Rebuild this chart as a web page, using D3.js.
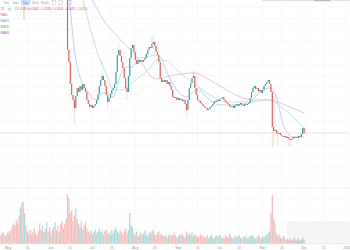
<!DOCTYPE html>
<html>
<head>
<meta charset="utf-8">
<title>Daily chart</title>
<style>
  body { margin: 0; background: #fff; }
  svg { display: block; font-family: "Liberation Sans", Arial, sans-serif; }
</style>
</head>
<body>
<svg width="350" height="250"></svg>
<script src="https://d3js.org/d3.v7.min.js"></script>
<script>

// daily candles start 2022-06-12, volume starts 2022-04-25 (day 0)
var volStart = "2022-04-25";
var candleStart = "2022-06-12";
var axisEnd = "2023-01-01";
var firstOpen = 0.4420;

var closes = [
  0.4291, 0.3725, 0.3621, 0.3429, 0.3334, 0.3290, 0.3220, 0.3325, 0.3394, 0.3360,
  0.3412, 0.3377, 0.3429, 0.3394, 0.3360, 0.3290, 0.3255, 0.3229, 0.3247, 0.3220,
  0.3238, 0.3255, 0.3290, 0.3342, 0.3412, 0.3464, 0.3499, 0.3464, 0.3412, 0.3334,
  0.3273, 0.3307, 0.3342, 0.3377, 0.3394, 0.3429, 0.3534, 0.3682, 0.3725, 0.3673,
  0.3621, 0.3568, 0.3481, 0.3394, 0.3360, 0.3499, 0.3655, 0.3742, 0.3769, 0.3708,
  0.3638, 0.3603, 0.3638, 0.3621, 0.3638, 0.3621, 0.3638, 0.3655, 0.3690, 0.3725,
  0.3751, 0.3742, 0.3777, 0.3795, 0.3760, 0.3708, 0.3682, 0.3621, 0.3481, 0.3447,
  0.3464, 0.3447, 0.3464, 0.3429, 0.3447, 0.3412, 0.3377, 0.3316, 0.3307, 0.3316,
  0.3290, 0.3307, 0.3290, 0.3299, 0.3281, 0.3290, 0.3255, 0.3203, 0.3290, 0.3394,
  0.3438, 0.3481, 0.3499, 0.3394, 0.3334, 0.3290, 0.3281, 0.3264, 0.3255, 0.3238,
  0.3229, 0.3220, 0.3203, 0.3212, 0.3229, 0.3238, 0.3255, 0.3281, 0.3273, 0.3290,
  0.3281, 0.3299, 0.3307, 0.3316, 0.3290, 0.3273, 0.3264, 0.3255, 0.3238, 0.3229,
  0.3238, 0.3220, 0.3247, 0.3255, 0.3238, 0.3255, 0.3264, 0.3247, 0.3238, 0.3255,
  0.3247, 0.3255, 0.3264, 0.3307, 0.3360, 0.3394, 0.3412, 0.3386, 0.3394, 0.3368,
  0.3377, 0.3351, 0.3377, 0.3412, 0.3429, 0.3447, 0.3464, 0.3429, 0.3360, 0.3055,
  0.3020, 0.3029, 0.3003, 0.2994, 0.3003, 0.2986, 0.2977, 0.2968, 0.2977, 0.2959,
  0.2968, 0.2951, 0.2942, 0.2951, 0.2968, 0.2959, 0.2968, 0.2959, 0.2977, 0.2968,
  0.2994, 0.3046, 0.3003
];

// notable shadows: [candle index, price]
var lowWicks = [[6, 0.3081], [7, 0.3186], [17, 0.3186], [30, 0.3203], [44, 0.3290],
  [87, 0.3133], [149, 0.2872], [150, 0.2898], [153, 0.2881], [161, 0.2890], [162, 0.2872]];
var highWicks = [[26, 0.3551], [38, 0.3777], [62, 0.3847], [63, 0.3864], [92, 0.3551]];

var volumes = [
  16, 15, 20, 18, 13, 16, 22, 18,
  24, 31, 36, 33, 42,
  36, 51, 65, 73, 75, 55, 33,
  22, 18, 25, 16, 20, 27, 18, 15, 22,
  36, 25, 33, 20, 27, 38, 22, 29, 18, 24,
  29, 38, 24, 33, 20, 35, 40, 27, 36,
  45, 89, 82, 55, 60, 40, 51, 65, 44,
  36, 29, 40, 25, 33, 38, 27,
  22, 18, 24, 16, 20, 25, 18, 22, 27, 20, 24, 16, 22, 25, 18,
  20, 16, 24, 18, 25, 29, 22, 18, 24, 20, 16, 22, 27, 18, 24,
  55, 33, 29,
  18, 15, 22, 13, 16, 20, 15, 18, 24, 16, 13, 20, 18, 22, 25, 16, 15, 20, 22, 16, 18, 15,
  13, 16, 11, 15, 18, 13, 16, 20, 15, 11, 13, 16, 15, 18, 13, 11, 22, 16, 18, 15, 20, 13, 16, 15, 11, 13, 16, 15, 13, 11,
  11, 15, 9, 13, 16, 11, 9, 13, 15, 11, 16, 13, 9, 11, 15, 13, 11, 18, 13, 11, 9, 15, 11, 13, 16, 11, 9, 13, 11, 15,
  9, 11, 15, 13, 16, 11, 9, 13, 15, 11, 9, 13, 11, 15, 16, 18, 22,
  55, 87, 45, 36,
  18, 13, 16, 11, 9, 15, 11, 7, 9,
  7, 9, 5, 7, 11, 5, 7, 9, 5, 7, 11, 7
];
// direction of the days before the first candle (u = up, d = down)
var earlyDirs = "udduddud" + "ddddddduddud" + "uddudduud" + "ddudduddud" + "dudduddud";

// moving averages: [day from volStart, value]
var ma10 = [[50, 0.4250], [54, 0.3725], [58, 0.3490], [63, 0.3377], [67, 0.3307], [70, 0.3290],
  [74, 0.3351], [78, 0.3351], [82, 0.3316], [86, 0.3464], [91, 0.3577], [96, 0.3577],
  [100, 0.3655], [107, 0.3664], [112, 0.3682], [116, 0.3664], [121, 0.3525], [128, 0.3377],
  [135, 0.3316], [143, 0.3386], [150, 0.3307], [159, 0.3247], [171, 0.3247], [181, 0.3273],
  [188, 0.3360], [195, 0.3394], [200, 0.3316], [205, 0.3073], [212, 0.2968], [220, 0.2968]];
var ma30 = [[57, 0.4282], [60, 0.4160], [70, 0.3725], [78, 0.3490], [82, 0.3377], [88, 0.3377],
  [98, 0.3464], [107, 0.3551], [114, 0.3638], [121, 0.3629], [128, 0.3551], [140, 0.3438],
  [152, 0.3334], [164, 0.3273], [181, 0.3273], [193, 0.3290], [198, 0.3273], [208, 0.3186],
  [220, 0.3046]];
var ma60 = [[64, 0.4238], [67, 0.4160], [76, 0.3969], [86, 0.3829], [96, 0.3708], [103, 0.3603],
  [109, 0.3499], [114, 0.3473], [123, 0.3499], [140, 0.3525], [152, 0.3464], [164, 0.3377],
  [183, 0.3290], [195, 0.3290], [208, 0.3238], [220, 0.3177]];

var tickDates = ["2022-05-01", "2022-05-15", "2022-06-01", "2022-06-15", "2022-07-01", "2022-07-15",
  "2022-08-01", "2022-08-15", "2022-09-01", "2022-09-15", "2022-10-01", "2022-10-15",
  "2022-11-01", "2022-11-15", "2022-12-01", "2022-12-15", "2023-01-01"];
var tickLabels = ["May", "15", "Jun", "15", "Jul", "15", "Aug", "15", "Sep", "15", "Oct", "15",
  "Nov", "15", "Dec", "15", "2023"];

var tabs = ["Time", "Hour", "Day", "Week", "Month"];
var legendNames = ["MA5", "MA10", "MA30", "MA60"];
var legendColors = ["#e8529f", "#5a8ef0", "#44c27a", "#a24cc4"];
var infoText = "O 0.3046 H 0.3061 L 0.2995 C 0.3003 \u22120.0043 (\u22121.41%)";

var up = "#26a69a", down = "#ef5350";

var svg = d3.select("svg"),
    width = +svg.attr("width"),
    height = +svg.attr("height");

var parse = d3.utcParse("%Y-%m-%d");
var day0 = parse(volStart), cand0 = parse(candleStart);

var x = d3.scaleUtc()
    .domain([day0, parse(axisEnd)])
    .range([-0.3, 347]);

var y = d3.scaleLinear()
    .domain([0.2524, 0.416])
    .range([188, 0]);

var v = d3.scaleLinear()
    .domain([0, 100])
    .range([243.5, 188]);

var candles = closes.map(function(c, i) {
  var o = i === 0 ? firstOpen : closes[i - 1];
  return {date: d3.utcDay.offset(cand0, i), open: o, close: c,
          high: Math.max(o, c), low: Math.min(o, c)};
});
lowWicks.forEach(function(w) { candles[w[0]].low = w[1]; });
highWicks.forEach(function(w) { candles[w[0]].high = w[1]; });

var offset = Math.round((cand0 - day0) / 864e5);
var volData = volumes.map(function(val, i) {
  var isUp = i < offset ? earlyDirs[i] === "u"
    : candles[i - offset].close >= candles[i - offset].open;
  return {date: d3.utcDay.offset(day0, i), value: val, up: isUp};
});

// grid
var grid = svg.append("g")
    .attr("stroke", "#e9e9ec")
    .attr("stroke-width", 0.5)
    .attr("stroke-dasharray", "1,1");

grid.selectAll(".h")
  .data(y.ticks(16))
  .enter().append("line")
    .attr("x1", 0).attr("x2", width)
    .attr("y1", function(d) { return y(d); })
    .attr("y2", function(d) { return y(d); });

grid.selectAll(".vh")
  .data([20, 40, 60, 80])
  .enter().append("line")
    .attr("x1", 0).attr("x2", width)
    .attr("y1", function(d) { return v(d); })
    .attr("y2", function(d) { return v(d); });

grid.selectAll(".v")
  .data(tickDates.map(parse))
  .enter().append("line")
    .attr("x1", function(d) { return x(d); })
    .attr("x2", function(d) { return x(d); })
    .attr("y1", 0).attr("y2", 243.5);

// faint watermark in the volume pane
svg.append("rect")
    .attr("x", 287).attr("y", 221)
    .attr("width", 70).attr("height", 22.5)
    .attr("rx", 2)
    .attr("fill", "#f5f5f6");

// pane separators
svg.append("line")
    .attr("x1", 0).attr("x2", width)
    .attr("y1", 188).attr("y2", 188)
    .attr("stroke", "#d9d9dc").attr("stroke-width", 0.5);

svg.append("line")
    .attr("x1", 0).attr("x2", width)
    .attr("y1", 243.8).attr("y2", 243.8)
    .attr("stroke", "#d9d9dc").attr("stroke-width", 0.5);

// volume
svg.append("g")
  .selectAll("rect")
  .data(volData)
  .enter().append("rect")
    .attr("x", function(d) { return x(d.date) - 0.6; })
    .attr("width", 1.2)
    .attr("y", function(d) { return v(d.value); })
    .attr("height", function(d) { return v(0) - v(d.value); })
    .attr("fill", function(d) { return d.up ? up : down; })
    .attr("fill-opacity", 0.38);

// price pane
svg.append("clipPath")
    .attr("id", "pane")
  .append("rect")
    .attr("x", 0).attr("y", 0)
    .attr("width", width).attr("height", 188);

var pane = svg.append("g").attr("clip-path", "url(#pane)");

// last price line
var last = candles[candles.length - 1];
pane.append("line")
    .attr("x1", 0).attr("x2", width)
    .attr("y1", y(last.close)).attr("y2", y(last.close))
    .attr("stroke", last.close >= last.open ? up : down)
    .attr("stroke-opacity", 0.55)
    .attr("stroke-width", 0.5)
    .attr("stroke-dasharray", "1,1");

var line = d3.line()
    .x(function(d) { return x(d3.utcDay.offset(day0, d[0])); })
    .y(function(d) { return y(d[1]); })
    .curve(d3.curveMonotoneX);

[[ma60, "#e6a6d8"], [ma30, "#9fe0b4"], [ma10, "#a3bff7"]].forEach(function(m) {
  pane.append("path")
      .datum(m[0])
      .attr("fill", "none")
      .attr("stroke", m[1])
      .attr("stroke-width", 0.7)
      .attr("d", line);
});

var cg = pane.append("g")
  .selectAll("g")
  .data(candles)
  .enter().append("g")
    .attr("fill", function(d) { return d.close >= d.open ? up : down; })
    .attr("stroke", function(d) { return d.close >= d.open ? up : down; });

cg.append("line")
    .attr("x1", function(d) { return x(d.date); })
    .attr("x2", function(d) { return x(d.date); })
    .attr("y1", function(d) { return y(d.high); })
    .attr("y2", function(d) { return y(d.low); })
    .attr("stroke-width", 0.4)
    .attr("stroke-opacity", 0.45);

cg.append("rect")
    .attr("stroke", "none")
    .attr("x", function(d) { return x(d.date) - 0.55; })
    .attr("width", 1.1)
    .attr("y", function(d) { return y(Math.max(d.open, d.close)); })
    .attr("height", function(d) { return Math.max(0.6, Math.abs(y(d.open) - y(d.close))); });

// time labels
svg.append("g")
  .selectAll("text")
  .data(tickDates)
  .enter().append("text")
    .attr("x", function(d) { return x(parse(d)); })
    .attr("y", 248.6)
    .attr("text-anchor", "middle")
    .attr("font-size", 3.3)
    .attr("fill", "#8d8f96")
    .text(function(d, i) { return tickLabels[i]; });

// toolbar
svg.append("rect")
    .attr("x", 262).attr("y", 0)
    .attr("width", 88).attr("height", 1.2)
    .attr("fill", "#e4e4e6");
svg.append("rect")
    .attr("x", 314).attr("y", 0)
    .attr("width", 16).attr("height", 1.2)
    .attr("fill", "#b8b8bc");

var tabX = d3.scalePoint().domain(tabs).range([6, 45]);

svg.append("rect")
    .attr("x", tabX("Day") - 4).attr("y", 0.2)
    .attr("width", 8).attr("height", 4.8)
    .attr("rx", 0.6)
    .attr("fill", "#dce9fc")
    .attr("stroke", "#6d9bf0")
    .attr("stroke-width", 0.3);

svg.append("g")
  .selectAll("text")
  .data(tabs)
  .enter().append("text")
    .attr("x", function(d) { return tabX(d); })
    .attr("y", 3.6)
    .attr("text-anchor", "middle")
    .attr("font-size", 2.8)
    .attr("fill", function(d) { return d === "Day" ? "#2962ff" : "#9a9ca3"; })
    .text(function(d) { return d; });

svg.append("g")
  .selectAll("rect")
  .data([52.5, 59, 68])
  .enter().append("rect")
    .attr("x", function(d) { return d; })
    .attr("y", 0.6)
    .attr("width", 3.2).attr("height", 3.6)
    .attr("fill", "none")
    .attr("stroke", "#a9abb2")
    .attr("stroke-width", 0.35);

svg.append("line")
    .attr("x1", 24).attr("x2", 24)
    .attr("y1", 5.5).attr("y2", 20)
    .attr("stroke", "#f28c8c")
    .attr("stroke-width", 0.6);

svg.append("text")
    .attr("x", 0.5).attr("y", 10.3)
    .attr("font-size", 3)
    .attr("fill", "#8d8f96")
    .text("1D");

svg.append("circle")
    .attr("cx", 9.6).attr("cy", 9.3).attr("r", 1.2)
    .attr("fill", "none")
    .attr("stroke", up)
    .attr("stroke-width", 0.4);

svg.append("text")
    .attr("x", 14.5).attr("y", 10.4)
    .attr("font-size", 2.9)
    .attr("fill", down)
    .text(infoText);

// legend
svg.append("g")
  .selectAll("text")
  .data(legendNames)
  .enter().append("text")
    .attr("x", 0.5)
    .attr("y", function(d, i) { return 15.5 + i * 6; })
    .attr("font-size", 3.3)
    .attr("fill", function(d, i) { return legendColors[i]; })
    .text(function(d) { return d; });

</script>
</body>
</html>
